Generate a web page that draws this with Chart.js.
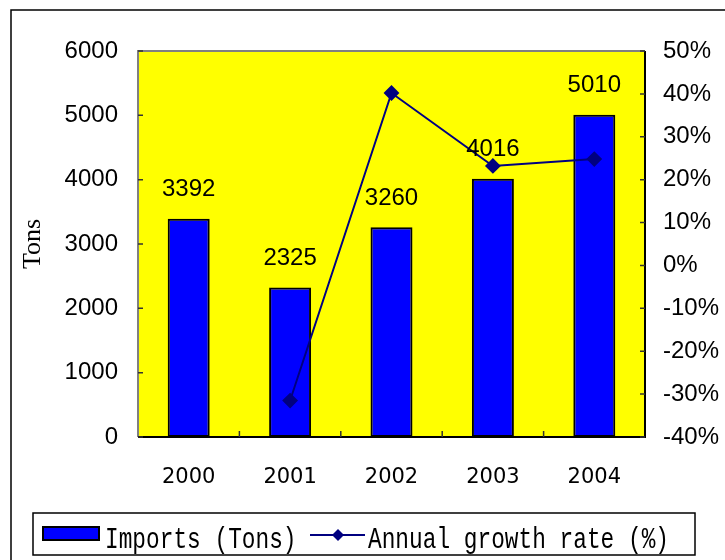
<!DOCTYPE html>
<html>
<head>
<meta charset="utf-8">
<script src="https://cdn.jsdelivr.net/npm/chart.js@4"></script>
<style>
  html, body { margin: 0; padding: 0; background: #fff; }
  #wrap { width: 725px; height: 560px; position: relative; }
</style>
</head>
<body>
<div id="wrap"><canvas id="myChart" width="725" height="560"></canvas></div>
<script>
var years = ['2000', '2001', '2002', '2003', '2004'];
var imports = [3392, 2325, 3260, 4016, 5010];
var growth = [null, -31.5, 40.2, 23.2, 24.8];
var tonTicks = [0, 6000, 1000];
var pctTicks = [-40, 50, 10];

// yellow plot, frame, inward ticks, bar labels, legend box
var extras = {
  id: 'extras',
  beforeDatasetsDraw: function (chart) {
    var c = chart.ctx, a = chart.chartArea;
    c.save();
    c.fillStyle = '#FFFF00';
    c.fillRect(a.left, a.top, a.right - a.left, a.bottom - a.top);
    c.restore();
  },
  afterDatasetsDraw: function (chart) {
    var c = chart.ctx;
    c.save();
    // labels above bars
    var meta = chart.getDatasetMeta(1);
    c.font = '24px "Liberation Sans", Arial, sans-serif';
    c.fillStyle = '#000';
    c.textAlign = 'center';
    c.textBaseline = 'middle';
    meta.data.forEach(function (bar, i) {
      c.fillText(String(imports[i]), bar.x, bar.y - 29);
    });
    c.restore();
  },
  afterDraw: function (chart) {
    var c = chart.ctx, a = chart.chartArea;
    var y = chart.scales.y, y1 = chart.scales.y1, x = chart.scales.x;
    c.save();
    // plot border
    c.strokeStyle = '#808080';
    c.lineWidth = 2;
    c.beginPath();
    c.moveTo(a.left, a.bottom); c.lineTo(a.left, a.top); c.lineTo(a.right, a.top);
    c.stroke();
    c.strokeStyle = '#000';
    c.beginPath();
    c.moveTo(a.left, a.bottom); c.lineTo(a.right, a.bottom); c.lineTo(a.right, a.top);
    c.stroke();
    // inward ticks
    c.lineWidth = 1.5;
    c.strokeStyle = '#333';
    c.beginPath();
    y.ticks.forEach(function (t) {
      var py = y.getPixelForValue(t.value);
      c.moveTo(a.left, py); c.lineTo(a.left + 5, py);
    });
    y1.ticks.forEach(function (t) {
      var py = y1.getPixelForValue(t.value);
      c.moveTo(a.right, py); c.lineTo(a.right - 5, py);
    });
    for (var i = 0; i < years.length - 1; i++) {
      var px = (x.getPixelForTick(i) + x.getPixelForTick(i + 1)) / 2;
      c.moveTo(px, a.bottom); c.lineTo(px, a.bottom - 6);
    }
    c.stroke();

    // outer frame
    c.strokeStyle = '#000';
    c.lineWidth = 1.5;
    c.beginPath();
    c.moveTo(11, 560); c.lineTo(11, 10); c.lineTo(725, 10);
    c.stroke();

    // legend
    c.lineWidth = 1.5;
    c.strokeStyle = '#000';
    c.strokeRect(33, 513, 662, 42);
    c.fillStyle = '#0000FF';
    c.fillRect(43, 527, 56, 13);
    c.lineWidth = 2;
    c.strokeRect(43, 527, 56, 13);
    c.strokeStyle = '#000080';
    c.beginPath();
    c.moveTo(310, 535); c.lineTo(365, 535);
    c.stroke();
    c.fillStyle = '#000080';
    c.beginPath();
    c.moveTo(338, 529); c.lineTo(344, 535); c.lineTo(338, 541); c.lineTo(332, 535);
    c.closePath(); c.fill();
    c.fillStyle = '#000';
    c.font = '30px "Liberation Mono", "DejaVu Sans Mono", monospace';
    c.textAlign = 'left';
    c.textBaseline = 'alphabetic';
    c.save();
    c.translate(105, 548); c.scale(0.76, 1);
    c.fillText('Imports (Tons)', 0, 0);
    c.restore();
    c.save();
    c.translate(368, 548); c.scale(0.76, 1);
    c.fillText('Annual growth rate (%)', 0, 0);
    c.restore();
    c.restore();
  }
};

var ctx = document.getElementById('myChart').getContext('2d');
var myChart = new Chart(ctx, {
  type: 'bar',
  data: {
    labels: years,
    datasets: [{
      type: 'line',
      label: 'Annual growth rate (%)',
      data: growth,
      yAxisID: 'y1',
      borderColor: '#000080',
      backgroundColor: '#000080',
      borderWidth: 2,
      pointStyle: 'rectRot',
      pointRadius: 6.5,
      pointHoverRadius: 6.5,
      pointBackgroundColor: '#000080',
      pointBorderColor: '#000080',
      spanGaps: false,
      order: 0
    }, {
      type: 'bar',
      label: 'Imports (Tons)',
      data: imports,
      yAxisID: 'y',
      backgroundColor: '#0000FF',
      borderColor: '#000',
      borderWidth: 2,
      borderSkipped: false,
      categoryPercentage: 1,
      barPercentage: 0.414,
      order: 1
    }]
  },
  options: {
    responsive: false,
    animation: false,
    layout: { padding: { top: 51, left: 0, right: 0, bottom: 50 } },
    plugins: { legend: { display: false }, tooltip: { enabled: false } },
    scales: {
      x: {
        grid: { display: false, drawTicks: false },
        border: { display: false },
        ticks: { padding: 28, color: '#000', font: { family: '"DejaVu Sans", sans-serif', size: 21 } },
        afterFit: function (s) { s.height = 73; }
      },
      y: {
        position: 'left',
        min: tonTicks[0], max: tonTicks[1],
        grid: { display: false, drawTicks: false },
        border: { display: false },
        ticks: { stepSize: tonTicks[2], padding: 20, color: '#000', font: { family: '"Liberation Sans", Arial, sans-serif', size: 24 },
          callback: function (v) { return String(v); } },
        title: { display: true, text: 'Tons', color: '#000', padding: { top: 18, bottom: 0 }, font: { family: '"Liberation Serif", serif', size: 26 } },
        afterFit: function (s) { s.width = 138; }
      },
      y1: {
        position: 'right',
        min: pctTicks[0], max: pctTicks[1],
        grid: { display: false, drawTicks: false },
        border: { display: false },
        ticks: { stepSize: pctTicks[2], padding: 18, color: '#000', font: { family: '"Liberation Sans", Arial, sans-serif', size: 24 },
          callback: function (v) { return v + '%'; } },
        afterFit: function (s) { s.width = 80; }
      }
    }
  },
  plugins: [extras]
});
</script>
</body>
</html>
